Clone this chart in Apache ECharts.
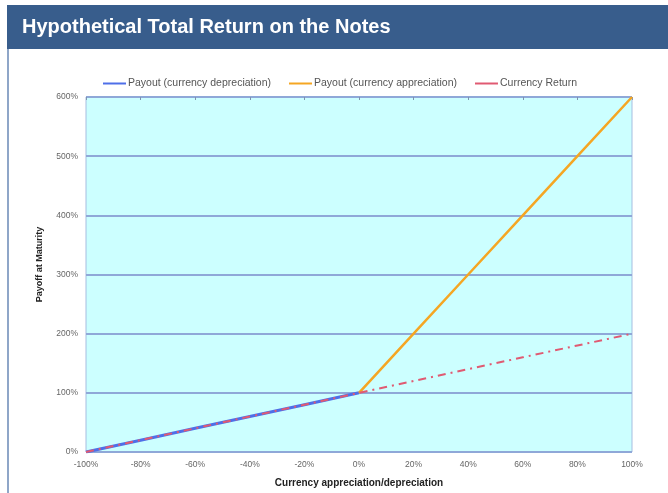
<!DOCTYPE html>
<html lang="en">
<head>
    <meta charset="UTF-8">
    <title>Hypothetical Total Return on the Notes</title>
    <script src="https://cdn.jsdelivr.net/npm/echarts@6/dist/echarts.min.js"></script>
    <style>
        html, body { margin: 0; padding: 0; background: #fff; }
    </style>
</head>
<body>
<div id="main" style="width:668px;height:493px;"></div>
<script>
    var xValues = [-100, -80, -60, -40, -20, 0, 20, 40, 60, 80, 100];
    var payoutDepreciation = [0, 20, 40, 60, 80, 100, null, null, null, null, null];
    var payoutAppreciation = [null, null, null, null, null, 100, 200, 300, 400, 500, 600];
    var currencyReturn = [0, 20, 40, 60, 80, 100, 120, 140, 160, 180, 200];
    var seriesNames = ['Payout (currency depreciation)', 'Payout (currency appreciation)', 'Currency Return'];

    function pairs(vals) {
        var out = [];
        for (var i = 0; i < xValues.length; i++) {
            if (vals[i] !== null) out.push([xValues[i], vals[i]]);
        }
        return out;
    }

    var chart = echarts.init(document.getElementById('main'));
    var option = {
        animation: false,
        textStyle: { fontFamily: 'Liberation Sans, Arial, sans-serif' },
        graphic: [
            { type: 'rect', shape: { x: 7, y: 5, width: 661, height: 44 }, style: { fill: '#385d8c' } },
            { type: 'rect', shape: { x: 7, y: 49, width: 2, height: 444 }, style: { fill: '#8fa6c8' } },
            {
                type: 'text', left: 22, top: 17,
                style: { text: 'Hypothetical Total Return on the Notes', fill: '#fff', font: 'bold 20px "Liberation Sans", Arial, sans-serif' }
            }
        ],
        legend: {
            top: 73,
            left: 98,
            itemWidth: 23,
            itemHeight: 2,
            itemGap: 18,
            textStyle: { fontSize: 10.5, color: '#555', padding: [0, 0, 0, -3] },
            data: seriesNames.map(function (n) { return { name: n, icon: 'rect' }; })
        },
        grid: { left: 86, right: 36, top: 97, bottom: 40, show: true, backgroundColor: '#ccffff', borderColor: '#a6bde0', borderWidth: 1 },
        xAxis: [{
            type: 'value', min: -100, max: 100, interval: 20,
            name: 'Currency appreciation/depreciation',
            nameLocation: 'middle', nameGap: 26,
            nameTextStyle: { fontSize: 10, fontWeight: 'bold', color: '#222' },
            axisLine: { show: false },
            axisTick: { show: false },
            splitLine: { show: false },
            axisLabel: { fontSize: 8.5, color: '#666', margin: 8, formatter: '{value}%' }
        }, {
            type: 'value', min: -100, max: 100, interval: 20, position: 'top',
            axisLine: { show: false },
            axisLabel: { show: false },
            splitLine: { show: false },
            axisTick: { show: true, inside: true, length: 3, lineStyle: { color: '#7f93b0', width: 1 } }
        }],
        yAxis: {
            type: 'value', min: 0, max: 600, interval: 100,
            name: 'Payoff at Maturity',
            nameLocation: 'middle', nameGap: 42,
            nameTextStyle: { fontSize: 9, fontWeight: 'bold', color: '#222', padding: [0, 0, 0, 20] },
            axisLine: { show: false },
            axisTick: { show: true, length: 4, lineStyle: { color: '#8fa8d8', width: 2 } },
            splitLine: { lineStyle: { color: '#8fa8d8', width: 2 } },
            axisLabel: { fontSize: 8.5, color: '#666', margin: 8, formatter: '{value}%' }
        },
        series: [
            {
                name: seriesNames[0], type: 'line', data: pairs(payoutDepreciation),
                symbol: 'none', lineStyle: { color: '#4f6fe8', width: 3 }, itemStyle: { color: '#4f6fe8' }
            },
            {
                name: seriesNames[1], type: 'line', data: pairs(payoutAppreciation),
                symbol: 'none', lineStyle: { color: '#f5a623', width: 2.5 }, itemStyle: { color: '#f5a623' }
            },
            {
                name: seriesNames[2], type: 'line', data: pairs(currencyReturn),
                symbol: 'none', lineStyle: { color: '#e05a72', width: 2, type: [8, 5, 2, 5] }, itemStyle: { color: '#e05a72' }
            }
        ]
    };
    chart.setOption(option);
</script>
</body>
</html>
